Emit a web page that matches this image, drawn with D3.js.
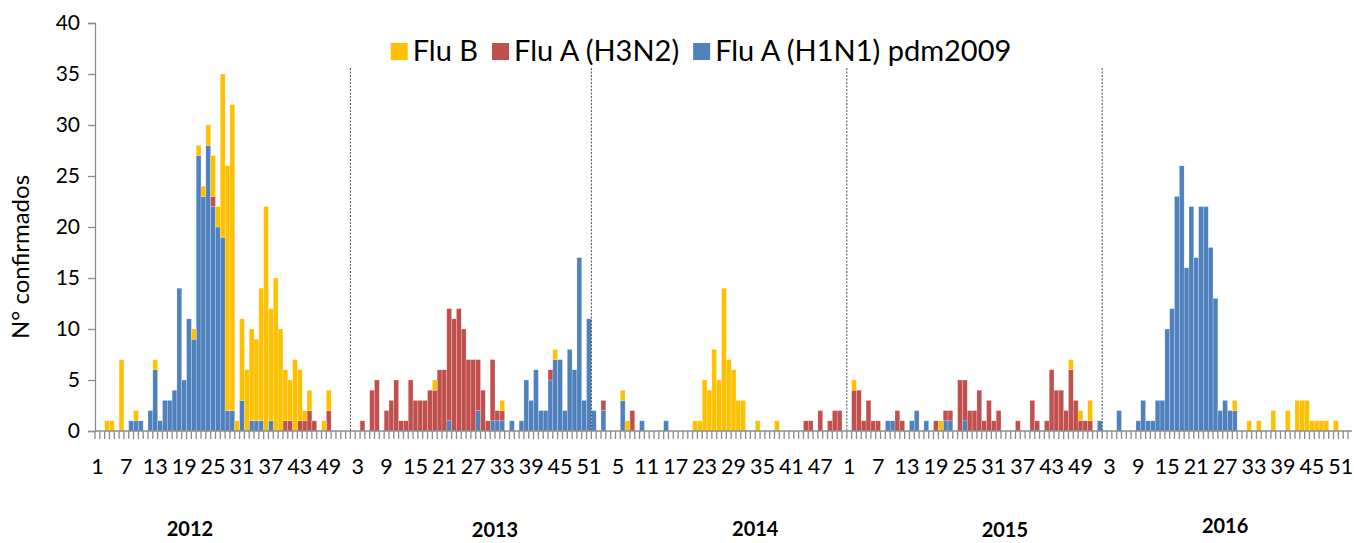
<!DOCTYPE html>
<html>
<head>
<meta charset="utf-8">
<script src="https://cdn.jsdelivr.net/npm/d3@7/dist/d3.min.js"></script>
<style>
  body { margin: 0; background: #fff; }
  svg { display: block; font-family: Lato, "Open Sans", sans-serif; }
</style>
</head>
<body>
<svg width="1354" height="543"></svg>
<script>
'use strict';

// one row per year, epidemiological weeks 1..52
const years = ['2012', '2013', '2014', '2015', '2016'];

const h1n1 = [
  [0,0,0,0,0,0,0,1,1,1, 0,2,6,1,3,3,4,14,5,11, 9,27,23,28,22,20,19,2,2,0, 3,0,1,1,1,0,1,0,0,0, 0,0,0,0,0,0,0,0,0,0, 0,0],
  [0,0,0,0,0,0,0,0,0,0, 0,0,0,0,0,0,0,0,0,0, 0,1,0,0,0,0,0,2,0,0, 1,1,1,0,1,0,1,5,3,6, 2,2,5,7,7,2,8,6,17,3, 11,2],
  [0,2,0,0,0,3,0,0,0,1, 0,0,0,0,1,0,0,0,0,0, 0,0,0,0,0,0,0,0,0,0, 0,0,0,0,0,0,0,0,0,0, 0,0,0,0,0,0,0,0,0,0, 0,0],
  [0,0,0,0,0,0,0,0,1,1, 0,0,0,1,2,0,1,0,0,0, 1,1,0,0,1,0,0,0,0,0, 0,0,0,0,0,0,0,0,0,0, 0,0,0,0,0,0,0,0,0,0, 0,0],
  [1,0,0,0,2,0,0,0,1,3, 1,1,3,3,10,12,23,26,16,22, 17,22,22,18,13,2,3,2,2,0, 0,0,0,0,0,0,0,0,0,0, 0,0,0,0,0,0,0,0,0,0, 0,0]
];

const h3n2 = [
  [0,0,0,0,0,0,0,0,0,0, 0,0,0,0,0,0,0,0,0,0, 0,0,0,0,1,0,0,0,0,0, 0,0,0,0,0,0,0,0,0,1, 1,0,1,1,2,1,0,0,2,0, 0,0],
  [0,0,0,1,0,4,5,0,2,3, 5,1,1,5,3,3,3,4,4,6, 6,11,11,12,10,7,7,5,4,1, 6,1,1,0,0,0,0,0,0,0, 0,0,1,0,0,0,0,0,0,0, 0,0],
  [0,1,0,0,0,0,0,2,0,0, 0,0,0,0,0,0,0,0,0,0, 0,0,0,0,0,0,0,0,0,0, 0,0,0,0,0,0,0,0,0,0, 0,0,0,1,1,0,2,0,1,2, 2,0],
  [0,4,4,1,3,1,1,0,0,0, 2,1,0,0,0,0,0,0,1,0, 1,1,0,5,4,2,2,4,1,3, 1,2,0,0,0,1,0,0,3,1, 0,1,6,4,4,2,6,3,1,1, 1,0],
  [0,0,0,0,0,0,0,0,0,0, 0,0,0,0,0,0,0,0,0,0, 0,0,0,0,0,0,0,0,0,0, 0,0,0,0,0,0,0,0,0,0, 0,0,0,0,0,0,0,0,0,0, 0,0]
];

const fluB = [
  [0,0,1,1,0,7,0,0,1,0, 0,0,1,0,0,0,0,0,0,0, 1,1,1,2,4,2,16,24,30,1, 8,6,9,8,13,22,11,15,10,5, 4,7,5,1,2,0,0,1,2,0, 0,0],
  [0,0,0,0,0,0,0,0,0,0, 0,0,0,0,0,0,0,0,1,0, 0,0,0,0,0,0,0,0,0,0, 0,0,1,0,0,0,0,0,0,0, 0,0,0,1,0,0,0,0,0,0, 0,0],
  [0,0,0,0,0,1,1,0,0,0, 0,0,0,0,0,0,0,0,0,0, 1,1,5,4,8,5,14,7,6,3, 3,0,0,1,0,0,0,1,0,0, 0,0,0,0,0,0,0,0,0,0, 0,0],
  [0,1,0,0,0,0,0,0,0,0, 0,0,0,0,0,0,0,0,0,1, 0,0,0,0,0,0,0,0,0,0, 0,0,0,0,0,0,0,0,0,0, 0,0,0,0,0,0,1,0,1,0, 2,0],
  [0,0,0,0,0,0,0,0,0,0, 0,0,0,0,0,0,0,0,0,0, 0,0,0,0,0,0,0,0,1,0, 0,1,0,1,0,0,2,0,0,2, 0,3,3,3,1,1,1,1,0,1, 0,0]
];

const series = [
  {key: 'fluB', label: 'Flu B',                 colour: '#FFC000'},
  {key: 'h3n2', label: 'Flu A (H3N2)',          colour: '#C0504D'},
  {key: 'h1n1', label: 'Flu A (H1N1) pdm2009',  colour: '#4F81BD'}
];
const yTicks = [0, 5, 10, 15, 20, 25, 30, 35, 40];
const yTitle = 'N° confirmados';
const labelEvery = 6;

// flat table, one row per week
const rows = [];
years.forEach((yr, i) => {
  h1n1[i].forEach((v, w) => {
    rows.push({year: yr, week: w + 1, h1n1: v, h3n2: h3n2[i][w], fluB: fluB[i][w]});
  });
});
rows.forEach((d, i) => d.i = i);

const svg = d3.select('svg');
const plotLeft = 95, plotRight = 1348, plotTop = 23, plotBottom = 431;
const axisColour = '#8c8c8c';

const x = d3.scaleBand().domain(rows.map(d => d.i)).range([plotLeft, plotRight]).padding(0);
const xw = d3.scaleLinear().domain([0, rows.length]).range([plotLeft, plotRight]);
const y = d3.scaleLinear().domain([0, 40]).range([plotBottom, plotTop]);

// stacked bars: H1N1 at the bottom, then H3N2, Flu B on top
const stack = d3.stack().keys(['h1n1', 'h3n2', 'fluB']);
const colourOf = Object.fromEntries(series.map(s => [s.key, s.colour]));

svg.append('g').selectAll('g')
  .data(stack(rows))
  .join('g')
    .attr('fill', s => colourOf[s.key])
  .selectAll('rect')
  .data(s => s.filter(d => d[1] > d[0]))
  .join('rect')
    .attr('x', d => x(d.data.i))
    .attr('width', x.bandwidth())
    .attr('y', d => y(d[1]))
    .attr('height', d => y(d[0]) - y(d[1]))
    .attr('stroke', '#fff')
    .attr('stroke-opacity', 0.45)
    .attr('stroke-width', 0.5);

// dashed year separators (drawn by hand in the original, in week units)
const dividerAt = [53, 103, 156, 209];
svg.append('g').selectAll('line')
  .data(dividerAt)
  .join('line')
    .attr('x1', d => xw(d)).attr('x2', d => xw(d))
    .attr('y1', 68).attr('y2', plotBottom)
    .attr('stroke', '#4d4d4d')
    .attr('stroke-width', 1)
    .attr('stroke-dasharray', '2,1.5');

// y axis
const yAxis = svg.append('g')
  .attr('transform', `translate(${plotLeft},0)`)
  .call(d3.axisLeft(y).tickValues(yTicks).tickSize(7).tickPadding(8));
yAxis.select('.domain').attr('stroke', axisColour).attr('stroke-width', 1.3);
yAxis.selectAll('.tick line').attr('stroke', axisColour).attr('stroke-width', 1.3);
yAxis.selectAll('.tick text')
  .attr('font-family', 'Lato, sans-serif')
  .attr('font-size', 21)
  .attr('fill', '#000');

svg.append('text')
  .attr('transform', `translate(29,${(plotTop + plotBottom) / 2 + 30}) rotate(-90)`)
  .attr('text-anchor', 'middle')
  .attr('font-size', 24)
  .attr('fill', '#000')
  .text(yTitle);

// x axis: one tick per week, label every sixth week
const xAxis = svg.append('g');
xAxis.append('line')
  .attr('x1', plotLeft).attr('x2', 1352)
  .attr('y1', plotBottom).attr('y2', plotBottom)
  .attr('stroke', axisColour).attr('stroke-width', 1.5);
xAxis.selectAll('line.tick')
  .data(d3.range(rows.length + 1))
  .join('line')
    .attr('class', 'tick')
    .attr('x1', d => xw(d)).attr('x2', d => xw(d))
    .attr('y1', plotBottom).attr('y2', plotBottom + 8)
    .attr('stroke', axisColour)
    .attr('stroke-width', 1.3);
xAxis.selectAll('text')
  .data(rows.filter(d => d.i % labelEvery === 0))
  .join('text')
    .attr('x', d => x(d.i) + x.bandwidth() / 2)
    .attr('y', 474)
    .attr('text-anchor', 'middle')
    .attr('font-size', 21.5)
    .attr('fill', '#000')
    .text(d => d.week);

// year labels, placed roughly as in the original
const yearLabelAt = [19.7, 83, 137, 188.8, 234.5];
const yearLabelY = [536, 537, 536, 537, 533];
svg.append('g').selectAll('text')
  .data(years)
  .join('text')
    .attr('x', (d, i) => xw(yearLabelAt[i]))
    .attr('y', (d, i) => yearLabelY[i])
    .attr('text-anchor', 'middle')
    .attr('font-size', 20)
    .attr('font-weight', 'bold')
    .attr('fill', '#000')
    .text(d => d);

// legend
const legend = svg.append('g');
let lx = 0;
series.forEach(s => {
  const g = legend.append('g').attr('transform', `translate(${lx},0)`);
  g.append('rect')
    .attr('x', 0).attr('y', -8)
    .attr('width', 17).attr('height', 17)
    .attr('fill', s.colour);
  const t = g.append('text')
    .attr('x', 22).attr('y', 10)
    .attr('font-size', 29)
    .attr('fill', '#000')
    .text(s.label);
  lx += 22 + t.node().getComputedTextLength() + 14;
});
const legendWidth = lx - 14;
legend.attr('transform', `translate(${701 - legendWidth / 2},51)`);
</script>
</body>
</html>
